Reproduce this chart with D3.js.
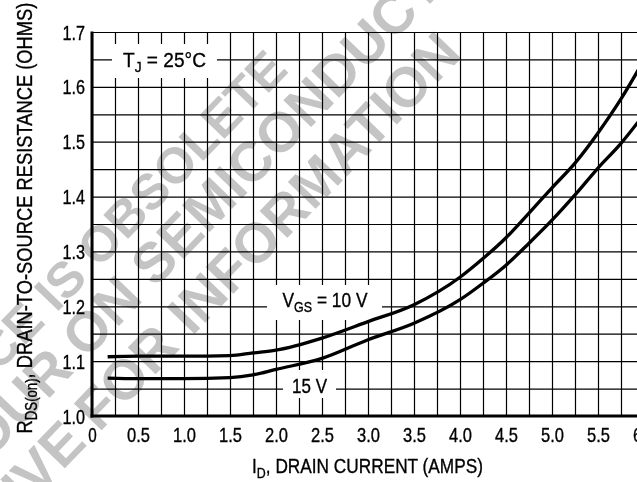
<!DOCTYPE html>
<html>
<head>
<meta charset="utf-8">
<script src="https://cdn.jsdelivr.net/npm/d3@7"></script>
<style>
  html, body { margin: 0; padding: 0; background: #fff; overflow: hidden; }
  svg { display: block; }
  .lbl { font-family: "Liberation Sans", Arial, Helvetica, sans-serif; fill: #000; stroke: #000; stroke-width: 0.35px; }
</style>
</head>
<body>
<svg id="chart" width="637" height="482"></svg>
<script>
// ---------------- data ----------------
const currentAmps = [0.17, 0.5, 1.0, 1.5, 1.75, 2.0, 2.5, 3.0, 3.5, 4.0, 4.25, 4.5, 4.75, 5.0, 5.25, 5.5, 5.75, 6.0];
const rdsVgs10 = [1.108, 1.109, 1.109, 1.110, 1.115, 1.120, 1.142, 1.172, 1.203, 1.253, 1.287, 1.325, 1.370, 1.416, 1.461, 1.516, 1.578, 1.649];
const rdsVgs15 = [1.069, 1.068, 1.068, 1.070, 1.075, 1.085, 1.105, 1.139, 1.169, 1.212, 1.242, 1.275, 1.315, 1.357, 1.403, 1.452, 1.497, 1.550];
const xTickValues = [0, 0.5, 1.0, 1.5, 2.0, 2.5, 3.0, 3.5, 4.0, 4.5, 5.0, 5.5, 6.0];
const xTickLabels = ["0", "0.5", "1.0", "1.5", "2.0", "2.5", "3.0", "3.5", "4.0", "4.5", "5.0", "5.5", "6.0"];
const yTickValues = [1.0, 1.1, 1.2, 1.3, 1.4, 1.5, 1.6, 1.7];
const yTickLabels = ["1.0", "1.1", "1.2", "1.3", "1.4", "1.5", "1.6", "1.7"];
const xGridValues = d3.range(0, 25).map(i => i * 0.25);
const yGridValues = d3.range(0, 15).map(i => +(1.0 + i * 0.05).toFixed(2));
const watermarkLines = ["THIS DEVICE IS OBSOLETE", "CONSULT YOUR ON SEMICONDUCTOR", "REPRESENTATIVE FOR INFORMATION"];

// ---------------- layout ----------------
const svg = d3.select("#chart");
const plotL = 92, plotR = 644, plotT = 32, plotB = 416;
const x = d3.scaleLinear().domain([0, 6]).range([plotL, plotR]);
const y = d3.scaleLinear().domain([1.0, 1.7]).range([plotB, plotT]);

svg.append("rect").attr("width", 637).attr("height", 482).attr("fill", "#fff");

// grid via axes
const gx = svg.append("g").attr("transform", `translate(0,${plotB})`)
  .call(d3.axisBottom(x).tickValues(xGridValues).tickSize(-(plotB - plotT)).tickFormat(""));
gx.select(".domain").remove();
gx.selectAll("line").attr("stroke", "#000").attr("stroke-width", 1.2);

const gy = svg.append("g").attr("transform", `translate(${plotL},0)`)
  .call(d3.axisLeft(y).tickValues(yGridValues).tickSize(-(plotR - plotL)).tickFormat(""));
gy.select(".domain").remove();
gy.selectAll("line").attr("stroke", "#000").attr("stroke-width", 1.2);

// heavy left & bottom axis lines
svg.append("line").attr("x1", x(0)).attr("x2", x(0)).attr("y1", y(1.7) - 0.5).attr("y2", y(1.0) + 1.5)
  .attr("stroke", "#000").attr("stroke-width", 3);
svg.append("line").attr("x1", x(0) - 1.5).attr("x2", 637).attr("y1", y(1.0)).attr("y2", y(1.0))
  .attr("stroke", "#000").attr("stroke-width", 3);

// white label boxes
function box(x0, y0, x1, y1) {
  svg.append("rect").attr("x", x0).attr("y", y0).attr("width", x1 - x0).attr("height", y1 - y0).attr("fill", "#fff");
}
box(112, 44, 217, 78);
box(267, 285, 382, 320);
box(283, 370, 336, 398);

// watermark (multiply so black lines stay black)
const wm = svg.append("g").attr("transform", "rotate(-46)").style("mix-blend-mode", "multiply");
const wmEnds = [150, 400, 282];
const wmBase = [258, 312, 372];
const wmSize = [50, 56, 56];
watermarkLines.forEach((t, i) => {
  wm.append("text").attr("x", wmEnds[i]).attr("y", wmBase[i]).attr("text-anchor", "end")
    .attr("font-family", "Liberation Sans, Arial, sans-serif").attr("font-weight", "bold")
    .attr("font-size", wmSize[i]).attr("fill", "#c4c4c4").text(t);
});

// helper: squeeze horizontally about the anchor point
function squeeze(node, k) {
  const x0 = +(node.getAttribute("x") || 0);
  node.setAttribute("transform", `translate(${x0},0) scale(${k},1) translate(${-x0},0)`);
}
function fit(node, targetW) {
  squeeze(node, targetW / node.getBBox().width);
}

// tick labels via axes
const ax = svg.append("g").attr("transform", `translate(0,${plotB})`)
  .call(d3.axisBottom(x).tickValues(xTickValues).tickSize(0).tickPadding(0)
    .tickFormat((d, i) => xTickLabels[i]));
ax.select(".domain").remove();
ax.selectAll("text").attr("class", "lbl").attr("font-size", 20).attr("dy", null).attr("y", 26.5)
  .attr("fill", "#000").each(function (d, i) { fit(this, xTickLabels[i].length === 1 ? 8.5 : 23); });

const ay = svg.append("g").attr("transform", `translate(${plotL},0)`)
  .call(d3.axisLeft(y).tickValues(yTickValues).tickSize(0).tickPadding(0)
    .tickFormat((d, i) => yTickLabels[i]));
ay.select(".domain").remove();
ay.selectAll("text").attr("class", "lbl").attr("font-size", 20).attr("x", -7).attr("dy", "0.35em")
  .attr("fill", "#000").each(function () { fit(this, 22.5); });

// curves
const line = d3.line().x(d => x(d[0])).y(d => y(d[1])).curve(d3.curveMonotoneX);
[rdsVgs10, rdsVgs15].forEach(series => {
  svg.append("path").datum(currentAmps.map((c, i) => [c, series[i]]))
    .attr("d", line).attr("fill", "none").attr("stroke", "#000").attr("stroke-width", 3.3)
    .attr("stroke-linejoin", "round");
});

// annotations: text fitted to measured width
function subText(parent, cx, cyBase, parts, size, targetW) {
  const t = parent.append("text").attr("class", "lbl").attr("x", cx).attr("y", cyBase)
    .attr("text-anchor", "middle").attr("font-size", size);
  parts.forEach(p => {
    const ts = t.append("tspan").text(p.t);
    if (p.sub) ts.attr("font-size", size * 0.72).attr("dy", 5);
    if (p.up) ts.attr("dy", -5);
  });
  fit(t.node(), targetW);
  return t;
}
subText(svg, 164.5, 67, [{t: "T"}, {t: "J", sub: true}, {t: " =  25°C", up: true}], 21, 83);
subText(svg, 325, 307, [{t: "V"}, {t: "GS", sub: true}, {t: " = 10 V", up: true}], 21, 85);
subText(svg, 309.5, 393, [{t: "15 V"}], 21, 35);

// axis titles
subText(svg, 367.5, 473, [{t: "I"}, {t: "D", sub: true}, {t: ", DRAIN CURRENT (AMPS)", up: true}], 21, 231);
const ytg = svg.append("g").attr("transform", "translate(32,218) rotate(-90)");
subText(ytg, 0, 0, [{t: "R"}, {t: "DS(on)", sub: true}, {t: ", DRAIN-TO-SOURCE RESISTANCE (OHMS)", up: true}], 22, 431);
</script>
</body>
</html>
